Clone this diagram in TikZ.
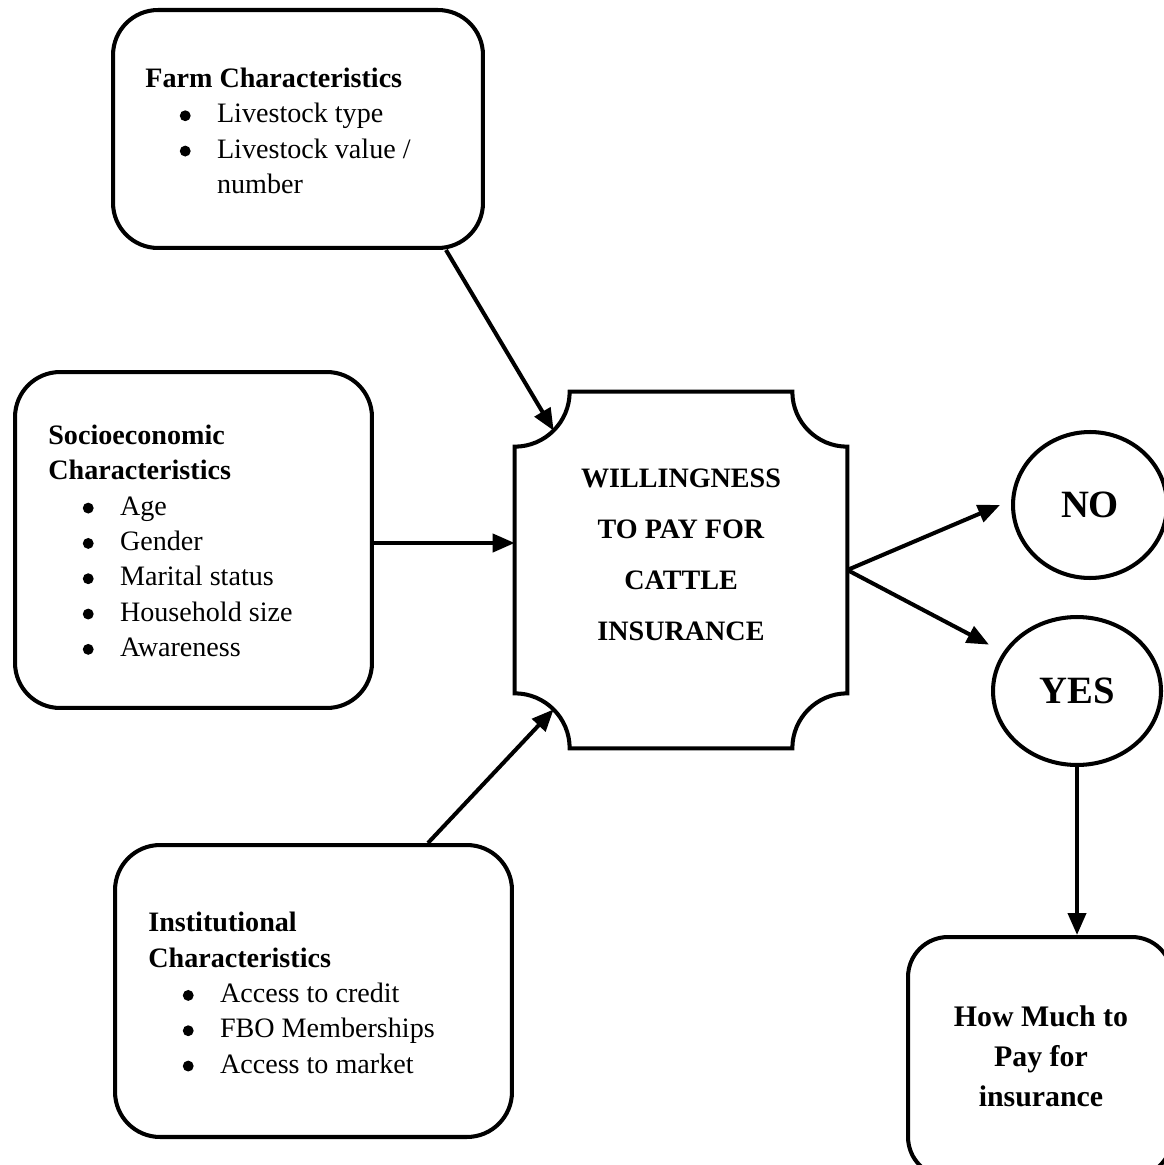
\documentclass[tikz,border=0pt]{standalone}
\usepackage{fontspec}
\setmainfont{Liberation Serif}
\usetikzlibrary{arrows.meta,shapes.geometric,calc}
\newcommand\bigbul{\tikz[x=1pt,y=1pt,baseline=0pt]\fill[black] (3.1,4.1) circle[radius=3.1pt];}
\newcommand\bitem[1]{\hspace*{19.6pt}\makebox[21.2pt][l]{\bigbul}#1}
\tikzset{
  lw/.style={line width=2.3pt},
  box/.style={draw, lw, rounded corners=0.9cm, inner sep=0pt},
  oval/.style={draw, lw, ellipse, inner sep=0pt, font=\fontsize{22}{26}\selectfont\bfseries},
  arr/.style={lw, -{Triangle[length=0.44cm,width=0.36cm]}},
  listtxt/.style={anchor=west, align=left, inner sep=0pt, font=\fontsize{16}{20.1}\selectfont},
}
\begin{document}
\begin{tikzpicture}[x=0.02cm, y=-0.02cm]
\fill[white] (0,0) rectangle (1163,1165);
\useasboundingbox (0,0) rectangle (1163,1165);

% boxes
\node[box, minimum width=7.4cm, minimum height=4.76cm] (farm) at (298,129) {};
\node[listtxt] (farmtxt) at (145,131) {\textbf{Farm Characteristics}\\
  \bitem{Livestock type}\\
  \bitem{Livestock value /}\\
  \hspace*{40.8pt}number};

\node[box, minimum width=7.14cm, minimum height=6.72cm] (socio) at (193.5,540) {};
\node[listtxt] (sociotxt) at (48,541) {\textbf{Socioeconomic}\\
  \textbf{Characteristics}\\
  \bitem{Age}\\
  \bitem{Gender}\\
  \bitem{Marital status}\\
  \bitem{Household size}\\
  \bitem{Awareness}};

\node[box, minimum width=7.94cm, minimum height=5.84cm] (inst) at (313.5,991) {};
\node[listtxt] (insttxt) at (148,993) {\textbf{Institutional}\\
  \textbf{Characteristics}\\
  \bitem{Access to credit}\\
  \bitem{FBO Memberships}\\
  \bitem{Access to market}};

% central shape
\node[minimum width=6.64cm, minimum height=7.12cm, inner sep=0pt] (wtp) at (681,570) {};
\draw[lw] ([xshift=1.1cm]wtp.north west) -- ([xshift=-1.1cm]wtp.north east)
  arc[start angle=180,end angle=270,radius=1.1cm] -- ([yshift=1.1cm]wtp.south east)
  arc[start angle=90,end angle=180,radius=1.1cm] -- ([xshift=1.1cm]wtp.south west)
  arc[start angle=0,end angle=90,radius=1.1cm] -- ([yshift=-1.1cm]wtp.north west)
  arc[start angle=270,end angle=360,radius=1.1cm] -- cycle;
\node[align=center, inner sep=0pt, font=\fontsize{16}{29}\selectfont\bfseries] (wtptxt) at (681,555)
  {WILLINGNESS\\TO PAY FOR\\CATTLE\\INSURANCE};

% outcomes
\node[oval, minimum width=3.08cm, minimum height=2.92cm] (no) at (1090,505) {NO};
\node[oval, minimum width=3.36cm, minimum height=2.96cm] (yes) at (1077,691) {YES};

\node[box, minimum width=5.28cm, minimum height=4.8cm, rounded corners=0.8cm] (how) at (1040,1057) {};
\node[align=center, inner sep=0pt, font=\fontsize{17}{22.7}\selectfont\bfseries] (howtxt) at (1041,1056)
  {How Much to\\Pay for\\insurance};

% connectors
\draw[arr] ([xshift=2.96cm]farm.south) -- ([shift={(0.78cm,-0.78cm)}]wtp.north west);
\draw[arr] ([yshift=-0.06cm]socio.east) -- ([yshift=-0.06cm]socio.east -| wtp.west);
\draw[arr] ([xshift=2.29cm]inst.north) -- ([shift={(0.78cm,0.78cm)}]wtp.south west);
\draw[arr] (wtp.east) -- ([xshift=-0.22cm]no.west);
\draw[arr, shorten >=0.32cm] (wtp.east) -- (yes);
\draw[arr] (yes.south) -- (yes.south |- how.north);
\end{tikzpicture}
\end{document}
